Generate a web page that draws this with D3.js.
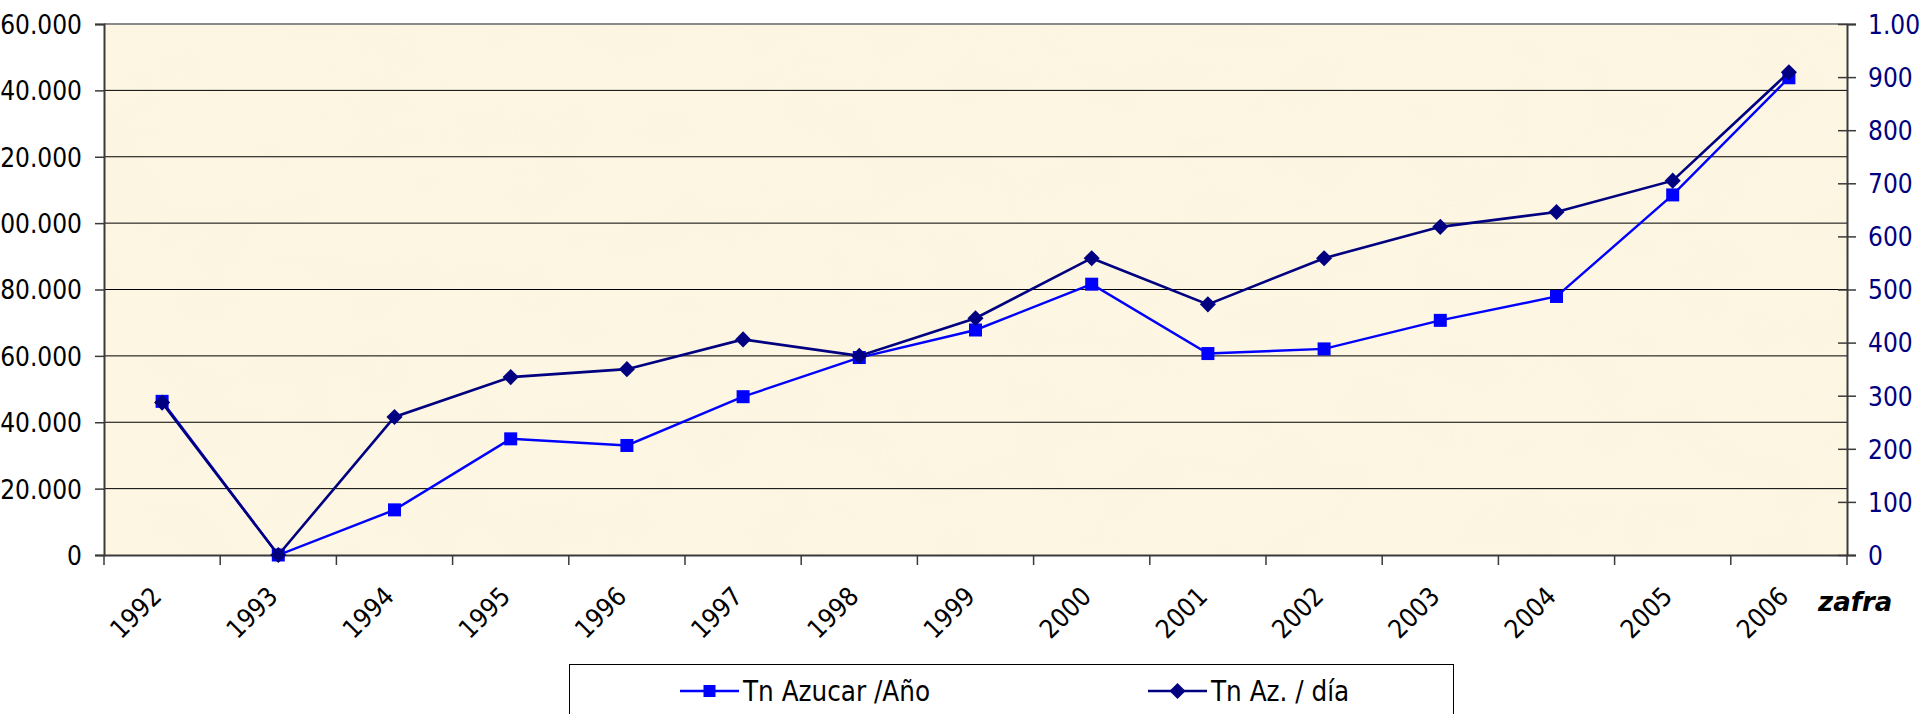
<!DOCTYPE html>
<html>
<head>
<meta charset="utf-8">
<script src="https://cdn.jsdelivr.net/npm/d3@7"></script>
<style>
  html, body { margin: 0; padding: 0; background: #ffffff; overflow: hidden; }
  svg { display: block; }
  .lbl { font-family: "DejaVu Sans Condensed", "DejaVu Sans", sans-serif; font-size: 26px; }
  .leg { font-family: "DejaVu Sans Condensed", "DejaVu Sans", sans-serif; font-size: 27.5px; }
</style>
</head>
<body>
<svg id="chart" width="1920" height="714"></svg>
<script>
// Zafra production series
const years = ["1992","1993","1994","1995","1996","1997","1998","1999","2000","2001","2002","2003","2004","2005","2006"];
const tnAzucarAnio = [46300, 0, 13600, 35000, 33000, 47700, 59500, 67800, 81600, 60700, 62100, 70700, 77900, 108500, 143800];
const tnAzDia = [287, 0, 260, 335, 350, 406, 375, 446, 559, 472, 559, 618, 646, 705, 909];
const leftTicks = [0, 20000, 40000, 60000, 80000, 100000, 120000, 140000, 160000];
const rightTicks = [0, 100, 200, 300, 400, 500, 600, 700, 800, 900, 1000];
const seriesNames = ["Tn Azucar /Año", "Tn Az. / día"];
const axisTitle = "zafra";

const svg = d3.select("#chart");
const plot = { left: 104, right: 1847, top: 24, bottom: 555 };

// Spanish number formatting: "." as thousands separator
const es = d3.formatLocale({ decimal: ",", thousands: ".", grouping: [3], currency: ["", ""] });
const fmt = es.format(",.0f");

const x = d3.scaleBand().domain(years).range([plot.left, plot.right]).padding(0);
const yL = d3.scaleLinear().domain([0, 160000]).range([plot.bottom, plot.top]);
const yR = d3.scaleLinear().domain([0, 1000]).range([plot.bottom, plot.top]);
const cx = d => x(d) + x.bandwidth() / 2;

// Parchment-like plot background
const defs = svg.append("defs");
const f = defs.append("filter").attr("id", "parch").attr("x", 0).attr("y", 0).attr("width", 1).attr("height", 1);
f.append("feTurbulence").attr("type", "fractalNoise").attr("baseFrequency", "0.012 0.02").attr("numOctaves", 3).attr("seed", 7).attr("result", "n");
f.append("feColorMatrix").attr("in", "n").attr("type", "matrix")
  .attr("values", "0 0 0 0 0.93  0 0 0 0 0.86  0 0 0 0 0.70  0 0 0 -1.1 0.55");
svg.append("rect").attr("x", plot.left).attr("y", plot.top)
  .attr("width", plot.right - plot.left).attr("height", plot.bottom - plot.top)
  .attr("fill", "#fdf6e2");
svg.append("rect").attr("x", plot.left).attr("y", plot.top)
  .attr("width", plot.right - plot.left).attr("height", plot.bottom - plot.top)
  .attr("fill", "#000").attr("filter", "url(#parch)").attr("opacity", 0.35);

// Horizontal gridlines at each left-axis tick
svg.append("g").selectAll("line").data(leftTicks.filter(t => t > 0 && t < 160000)).join("line")
  .attr("x1", plot.left).attr("x2", plot.right)
  .attr("y1", d => yL(d)).attr("y2", d => yL(d))
  .attr("stroke", "#000").attr("stroke-width", 1);

// Top border of plot area
svg.append("line").attr("x1", plot.left).attr("x2", plot.right)
  .attr("y1", plot.top).attr("y2", plot.top)
  .attr("stroke", "#8a8a8a").attr("stroke-width", 2);

// Left axis
const gL = svg.append("g").attr("transform", `translate(${plot.left},0)`)
  .call(d3.axisLeft(yL).tickValues(leftTicks).tickFormat(fmt).tickSize(9).tickPadding(13));
gL.select(".domain").attr("stroke", "#3a3a3a").attr("stroke-width", 2);
gL.selectAll(".tick line").attr("stroke", "#3a3a3a").attr("stroke-width", 1.5);
gL.selectAll("text").attr("class", "lbl").attr("fill", "#000").attr("dy", "0.36em");

// Right axis (ticks cross the axis line)
const gR = svg.append("g").attr("transform", `translate(${plot.right},0)`)
  .call(d3.axisRight(yR).tickValues(rightTicks).tickFormat(fmt).tickSize(9).tickPadding(12));
gR.select(".domain").attr("stroke", "#3a3a3a").attr("stroke-width", 2);
gR.selectAll(".tick line").attr("x1", -9).attr("stroke", "#3a3a3a").attr("stroke-width", 1.5);
gR.selectAll("text").attr("class", "lbl").attr("fill", "#000080").attr("dy", "0.36em");

// Bottom axis: tick marks between categories, labels rotated
const gB = svg.append("g").attr("transform", `translate(0,${plot.bottom})`)
  .call(d3.axisBottom(x).tickSize(0).tickPadding(0));
gB.select(".domain").attr("stroke", "#3a3a3a").attr("stroke-width", 2);
gB.selectAll(".tick text").attr("class", "lbl").attr("fill", "#000")
  .attr("text-anchor", "end").attr("dy", null)
  .attr("transform", "translate(1,43) rotate(-45)");
gB.selectAll(".sep").data(years.concat(["end"])).join("line").attr("class", "sep")
  .attr("x1", (d, i) => plot.left + i * x.step()).attr("x2", (d, i) => plot.left + i * x.step())
  .attr("y1", 0).attr("y2", 10).attr("stroke", "#3a3a3a").attr("stroke-width", 1.5);

svg.append("text").attr("x", 1818).attr("y", 611)
  .attr("font-family", "DejaVu Sans, sans-serif").attr("font-size", 26)
  .attr("font-weight", "bold").attr("font-style", "italic").attr("fill", "#000")
  .text(axisTitle);

// Series lines and markers
const lineL = d3.line().x((d, i) => cx(years[i])).y(d => yL(d));
const lineR = d3.line().x((d, i) => cx(years[i])).y(d => yR(d));

svg.append("path").datum(tnAzucarAnio).attr("d", lineL)
  .attr("fill", "none").attr("stroke", "#0000ff").attr("stroke-width", 2.4);
svg.append("g").selectAll("rect").data(tnAzucarAnio).join("rect")
  .attr("x", (d, i) => cx(years[i]) - 6.5).attr("y", d => yL(d) - 6.5)
  .attr("width", 13).attr("height", 13).attr("fill", "#0000ff");

const diamond = d3.symbol().type(d3.symbolDiamond2).size(165);
svg.append("path").datum(tnAzDia).attr("d", lineR)
  .attr("fill", "none").attr("stroke", "#000080").attr("stroke-width", 2.6);
svg.append("g").selectAll("path").data(tnAzDia).join("path")
  .attr("d", diamond)
  .attr("transform", (d, i) => `translate(${cx(years[i])},${yR(d)})`)
  .attr("fill", "#000080");

// Legend
const lg = svg.append("g");
lg.append("rect").attr("x", 569.5).attr("y", 664.5).attr("width", 884).attr("height", 70)
  .attr("fill", "#fff").attr("stroke", "#000").attr("stroke-width", 1);
const legendItems = [
  { name: seriesNames[0], color: "#0000ff", x0: 680, shape: "square" },
  { name: seriesNames[1], color: "#000080", x0: 1148, shape: "diamond" }
];
const ly = 691;
legendItems.forEach(it => {
  lg.append("line").attr("x1", it.x0).attr("x2", it.x0 + 59).attr("y1", ly).attr("y2", ly)
    .attr("stroke", it.color).attr("stroke-width", 2.4);
  if (it.shape === "square") {
    lg.append("rect").attr("x", it.x0 + 29.5 - 6).attr("y", ly - 6).attr("width", 12).attr("height", 12).attr("fill", it.color);
  } else {
    lg.append("path").attr("d", diamond).attr("transform", `translate(${it.x0 + 29.5},${ly})`).attr("fill", it.color);
  }
  lg.append("text").attr("class", "leg").attr("x", it.x0 + 63).attr("y", ly + 10)
    .attr("fill", "#000").text(it.name);
});
</script>
</body>
</html>
